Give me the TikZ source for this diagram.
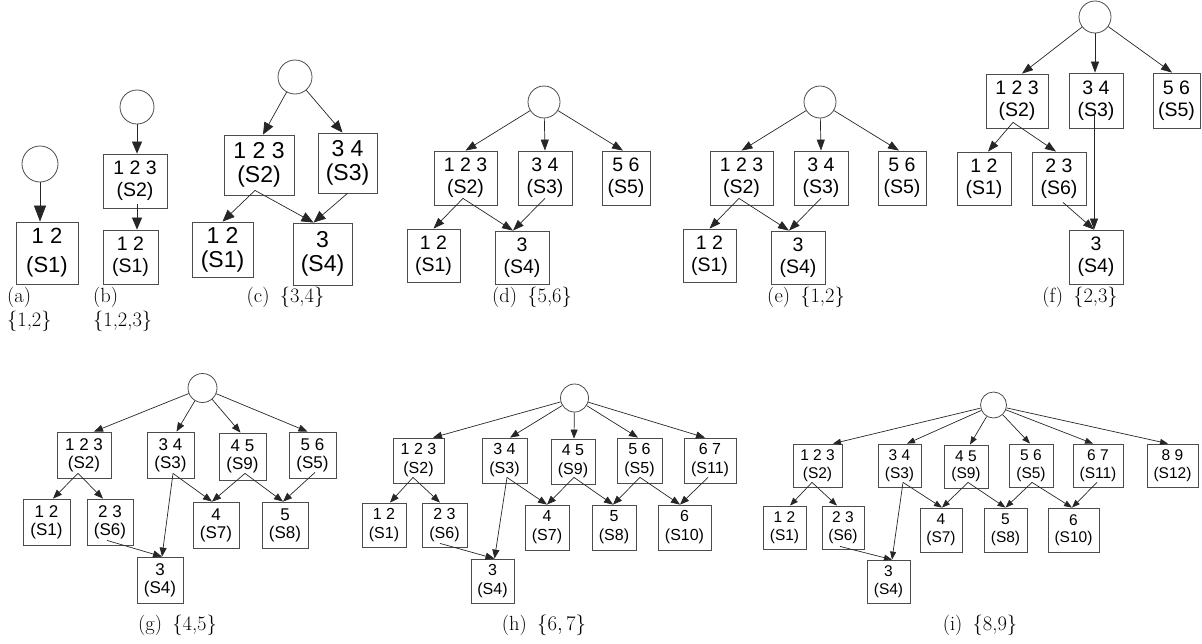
\documentclass[tikz,border=0pt]{standalone}
\usepackage{fontspec}
\newfontfamily\arialf{Liberation Sans}
\usetikzlibrary{arrows.meta}
\tikzset{
  bx/.style={draw=black!70, line width=0.8pt, inner sep=0pt, align=center},
  rt/.style={draw=black!70, line width=0.8pt, circle, inner sep=0pt},
  ln/.style={draw=black!85, line width=0.7pt},
  edA/.style={ln, -{Triangle[length=16pt,width=12pt]}},
  edB/.style={ln, -{Triangle[length=12pt,width=10pt]}},
  edC/.style={ln, -{Triangle[length=12pt,width=10pt]}},
  edD/.style={ln, -{Triangle[length=11pt,width=8pt]}},
  edG/.style={ln, -{Triangle[length=9pt,width=7pt]}},
  edH/.style={ln, -{Triangle[length=9pt,width=7pt]}},
  edI/.style={ln, -{Triangle[length=8pt,width=6pt]}},
  fa/.style={font=\arialf\fontsize{22}{29}\selectfont},
  fb/.style={font=\arialf\fontsize{19.5}{22}\selectfont},
  fc/.style={font=\arialf\fontsize{23}{24}\selectfont},
  fd/.style={font=\arialf\fontsize{19.5}{22}\selectfont},
  fg/.style={font=\arialf\fontsize{17}{18}\selectfont},
  fh/.style={font=\arialf\fontsize{16}{19}\selectfont},
  fi/.style={font=\arialf\fontsize{15.5}{17.5}\selectfont},
  captxt/.style={font=\fontsize{20.5}{25}\selectfont, inner sep=0pt, anchor=base},
}
\newcommand\myroot[4]{\draw[#1] (#2) -- ([xshift=#4pt]#3.north);}
\newcommand\mylink[6]{\draw[#1] ([shift={(#3pt,#4pt)}]#2.south) -- ([xshift=#6pt]#5.north);}
\begin{document}
\begin{tikzpicture}[x=1pt,y=-1pt]
\useasboundingbox (0,0) rectangle (1202,643);

% ---------- (a)
\node[rt,minimum size=36] (ar) at (40,164) {};
\node[bx,fa,minimum width=62,minimum height=62] (a1) at (47,253) {1 2\\(S1)};
\myroot{edA}{ar}{a1}{-7}
\node[captxt,anchor=base west] (capa1) at (7,302) {(a)};
\node[captxt,anchor=base west] (capa2) at (7,326) {\{1,2\}};

% ---------- (b)
\node[rt,minimum size=34] (br) at (137,107) {};
\node[bx,fb,minimum width=64,minimum height=54] (b2) at (135,181) {1 2 3\\(S2)};
\node[bx,fb,minimum width=55,minimum height=54] (b1) at (130.5,257) {1 2\\(S1)};
\myroot{edB}{br}{b2}{2}
\mylink{edB}{b2}{2}{4}{b1}{6.5}
\node[captxt,anchor=base west] (capb1) at (93,302) {(b)};
\node[captxt,anchor=base west] (capb2) at (93,326) {\{1,2,3\}};

% ---------- (c)
\node[rt,minimum size=34] (cr) at (295,77) {};
\node[bx,fc,minimum width=70,minimum height=60] (c2) at (259,165) {1 2 3\\(S2)};
\node[bx,fc,minimum width=59,minimum height=60] (c3) at (347.5,163) {3 4\\(S3)};
\node[bx,fc,minimum width=61,minimum height=55] (c1) at (222.5,249.5) {1 2\\(S1)};
\node[bx,fc,minimum width=59,minimum height=62] (c4) at (322.5,254) {3\\(S4)};
\myroot{edC}{cr}{c2}{4}
\myroot{edC}{cr}{c3}{-5}
\mylink{edC}{c2}{-4}{5}{c1}{0}
\mylink{edC}{c2}{-4}{5}{c4}{-9}
\mylink{edC}{c3}{0}{0}{c4}{-9}
\node[captxt] (capc) at (285.5,302) {(c)\hspace{0.5em}\{3,4\}};

% ---------- (d)
\node[rt,minimum size=32] (dr) at (544,102) {};
\node[bx,fd,minimum width=63,minimum height=54] (d2) at (465.5,178) {1 2 3\\(S2)};
\node[bx,fd,minimum width=54,minimum height=54] (d3) at (545,178) {3 4\\(S3)};
\node[bx,fd,minimum width=48,minimum height=54] (d5) at (626,178) {5 6\\(S5)};
\node[bx,fd,minimum width=53,minimum height=53] (d1) at (433.5,255.5) {1 2\\(S1)};
\node[bx,fd,minimum width=54,minimum height=53] (d4) at (522,257.5) {3\\(S4)};
\myroot{edD}{dr}{d2}{0}
\myroot{edD}{dr}{d3}{0}
\myroot{edD}{dr}{d5}{-3}
\mylink{edD}{d2}{-2.5}{7}{d1}{0}
\mylink{edD}{d2}{-2.5}{7}{d4}{-9}
\mylink{edD}{d3}{0}{7}{d4}{-9}
\node[captxt] (capd) at (532,302) {(d)\hspace{0.5em}\{5,6\}};

% ---------- (e)
\node[rt,minimum size=32] (er) at (820,102) {};
\node[bx,fd,minimum width=63,minimum height=54] (e2) at (741.5,178) {1 2 3\\(S2)};
\node[bx,fd,minimum width=54,minimum height=54] (e3) at (821,178) {3 4\\(S3)};
\node[bx,fd,minimum width=48,minimum height=54] (e5) at (902,178) {5 6\\(S5)};
\node[bx,fd,minimum width=53,minimum height=53] (e1) at (709.5,255.5) {1 2\\(S1)};
\node[bx,fd,minimum width=54,minimum height=53] (e4) at (798,257.5) {3\\(S4)};
\myroot{edD}{er}{e2}{0}
\myroot{edD}{er}{e3}{0}
\myroot{edD}{er}{e5}{-3}
\mylink{edD}{e2}{-2.5}{7}{e1}{0}
\mylink{edD}{e2}{-2.5}{7}{e4}{-9}
\mylink{edD}{e3}{0}{7}{e4}{-9}
\node[captxt] (cape) at (806,302) {(e)\hspace{0.5em}\{1,2\}};

% ---------- (f)
\node[rt,minimum size=32] (fr) at (1095,17) {};
\node[bx,fd,minimum width=62,minimum height=54] (f2) at (1017,101) {1 2 3\\(S2)};
\node[bx,fd,minimum width=54,minimum height=55] (f3) at (1096,100.5) {3 4\\(S3)};
\node[bx,fd,minimum width=47,minimum height=55] (f5) at (1176.5,100.5) {5 6\\(S5)};
\node[bx,fd,minimum width=54,minimum height=53] (f1) at (984,178.5) {1 2\\(S1)};
\node[bx,fd,minimum width=54,minimum height=53] (f6) at (1059,178.5) {2 3\\(S6)};
\node[bx,fd,minimum width=54,minimum height=54] (f4) at (1096,257) {3\\(S4)};
\myroot{edD}{fr}{f2}{5}
\myroot{edD}{fr}{f3}{-1}
\myroot{edD}{fr}{f5}{-4.5}
\mylink{edD}{f2}{-4}{6}{f1}{4}
\mylink{edD}{f2}{-4}{6}{f6}{-3}
\mylink{edD}{f3}{-2}{15}{f4}{-2}
\mylink{edD}{f6}{4}{3}{f4}{-2}
\node[captxt] (capf) at (1080,302) {(f)\hspace{0.5em}\{2,3\}};

% ---------- (g)
\node[rt,minimum size=29] (gr) at (202.5,388) {};
\node[bx,fg,minimum width=54,minimum height=46] (g2) at (84,455) {1 2 3\\(S2)};
\node[bx,fg,minimum width=47,minimum height=46] (g3) at (170.5,455) {3 4\\(S3)};
\node[bx,fg,minimum width=47,minimum height=47] (g9) at (242.5,456.5) {4 5\\(S9)};
\node[bx,fg,minimum width=47,minimum height=46] (g5) at (312.5,455) {5 6\\(S5)};
\node[bx,fg,minimum width=47,minimum height=46] (g1) at (46.5,522) {1 2\\(S1)};
\node[bx,fg,minimum width=46,minimum height=46] (g6) at (110,522) {2 3\\(S6)};
\node[bx,fg,minimum width=46,minimum height=46] (g7) at (216,525) {4\\(S7)};
\node[bx,fg,minimum width=46,minimum height=46] (g8) at (285,525) {5\\(S8)};
\node[bx,fg,minimum width=46,minimum height=46] (g4) at (160,580) {3\\(S4)};
\myroot{edG}{gr}{g2}{10}
\myroot{edG}{gr}{g3}{6}
\myroot{edG}{gr}{g9}{-2}
\myroot{edG}{gr}{g5}{-5}
\mylink{edG}{g2}{-6}{5}{g1}{6.5}
\mylink{edG}{g2}{-6}{5}{g6}{-7}
\mylink{edG}{g3}{2.5}{5}{g4}{2}
\mylink{edG}{g3}{2.5}{5}{g7}{-4}
\mylink{edG}{g9}{2.5}{7}{g7}{-4}
\mylink{edG}{g9}{2.5}{7}{g8}{-2}
\mylink{edG}{g5}{2.5}{6}{g8}{-2}
\mylink{edG}{g6}{-3}{5}{g4}{2}
\node[captxt] (capg) at (177.5,630) {(g)\hspace{0.5em}\{4,5\}};

% ---------- (h)
\node[rt,minimum size=28] (hr) at (574.5,398) {};
\node[bx,fh,minimum width=51,minimum height=45] (h2) at (418.5,460.5) {1 2 3\\(S2)};
\node[bx,fh,minimum width=45,minimum height=45] (h3) at (504.5,460.5) {3 4\\(S3)};
\node[bx,fh,minimum width=44,minimum height=45] (h9) at (573,461.5) {4 5\\(S9)};
\node[bx,fh,minimum width=45,minimum height=45] (h5) at (639.5,460.5) {5 6\\(S5)};
\node[bx,fh,minimum width=52,minimum height=45] (h11) at (710,460.5) {6 7\\(S11)};
\node[bx,fh,minimum width=44,minimum height=44] (h1) at (384,525) {1 2\\(S1)};
\node[bx,fh,minimum width=45,minimum height=44] (h6) at (444.5,525) {2 3\\(S6)};
\node[bx,fh,minimum width=44,minimum height=45] (h7) at (547,527.5) {4\\(S7)};
\node[bx,fh,minimum width=44,minimum height=45] (h8) at (614,527.5) {5\\(S8)};
\node[bx,fh,minimum width=53,minimum height=45] (h10) at (684.5,527.5) {6\\(S10)};
\node[bx,fh,minimum width=43,minimum height=44] (h4) at (492.5,581) {3\\(S4)};
\myroot{edH}{hr}{h2}{14.5}
\myroot{edH}{hr}{h3}{5.5}
\myroot{edH}{hr}{h9}{1}
\myroot{edH}{hr}{h5}{-1.5}
\myroot{edH}{hr}{h11}{-5}
\mylink{edH}{h2}{-5.5}{6}{h1}{6}
\mylink{edH}{h2}{-5.5}{6}{h6}{-4.5}
\mylink{edH}{h3}{2.5}{6}{h4}{2}
\mylink{edH}{h3}{2.5}{6}{h7}{0}
\mylink{edH}{h9}{1}{7}{h7}{0}
\mylink{edH}{h9}{1}{7}{h8}{-1}
\mylink{edH}{h5}{0.5}{6}{h8}{-1}
\mylink{edH}{h5}{0.5}{6}{h10}{-4.5}
\mylink{edH}{h11}{-2}{6}{h10}{-4.5}
\mylink{edH}{h6}{-4.5}{4}{h4}{2}
\node[captxt] (caph) at (544,630) {(h)\hspace{0.5em}$\{6,7\}$};

% ---------- (i)
\node[rt,minimum size=26] (ir) at (993.5,405) {};
\node[bx,fi,minimum width=49,minimum height=43] (i2) at (817.5,465.5) {1 2 3\\(S2)};
\node[bx,fi,minimum width=43,minimum height=43] (i3) at (899.5,465.5) {3 4\\(S3)};
\node[bx,fi,minimum width=44,minimum height=43] (i9) at (966,466.5) {4 5\\(S9)};
\node[bx,fi,minimum width=44,minimum height=43] (i5) at (1031,465.5) {5 6\\(S5)};
\node[bx,fi,minimum width=50,minimum height=43] (i11) at (1098,465.5) {6 7\\(S11)};
\node[bx,fi,minimum width=51,minimum height=43] (i12) at (1172.5,465.5) {8 9\\(S12)};
\node[bx,fi,minimum width=43,minimum height=43] (i1) at (784.5,527.5) {1 2\\(S1)};
\node[bx,fi,minimum width=42,minimum height=43] (i6) at (843,527.5) {2 3\\(S6)};
\node[bx,fi,minimum width=42,minimum height=44] (i7) at (941,530) {4\\(S7)};
\node[bx,fi,minimum width=43,minimum height=44] (i8) at (1005.5,530) {5\\(S8)};
\node[bx,fi,minimum width=51,minimum height=44] (i10) at (1073.5,530) {6\\(S10)};
\node[bx,fi,minimum width=43,minimum height=43] (i4) at (888.5,581.5) {3\\(S4)};
\myroot{edI}{ir}{i2}{15.5}
\myroot{edI}{ir}{i3}{7.5}
\myroot{edI}{ir}{i9}{4}
\myroot{edI}{ir}{i5}{-1}
\myroot{edI}{ir}{i11}{-5}
\myroot{edI}{ir}{i12}{-4.5}
\mylink{edI}{i2}{-5.5}{5}{i1}{5.5}
\mylink{edI}{i2}{-5.5}{5}{i6}{-6}
\mylink{edI}{i3}{3.5}{5}{i4}{3.5}
\mylink{edI}{i3}{3.5}{5}{i7}{1}
\mylink{edI}{i9}{2}{6}{i7}{1}
\mylink{edI}{i9}{2}{6}{i8}{0}
\mylink{edI}{i5}{1}{5}{i8}{0}
\mylink{edI}{i5}{1}{5}{i10}{-1.5}
\mylink{edI}{i11}{-1}{5}{i10}{-1.5}
\mylink{edI}{i6}{-3}{3}{i4}{3.5}
\node[captxt] (capi) at (980,630) {(i)\hspace{0.5em}\{8,9\}};
\end{tikzpicture}
\end{document}
